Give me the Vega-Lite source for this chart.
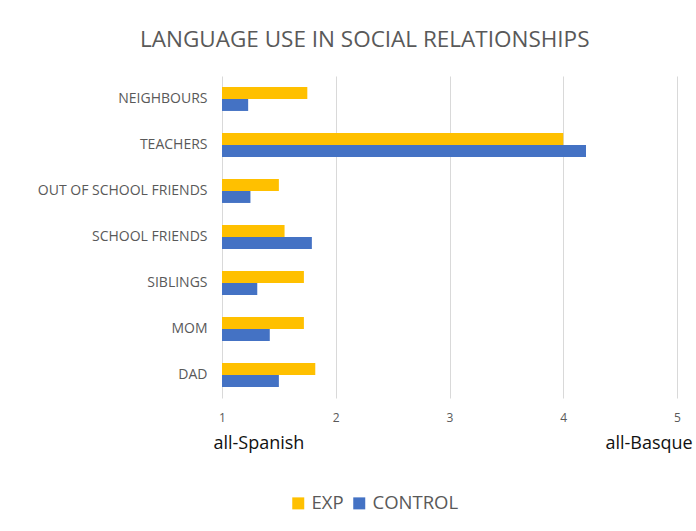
{
  "$schema": "https://vega.github.io/schema/vega-lite/v6.json",
  "width": 455,
  "height": 322,
  "autosize": {"type": "none"},
  "padding": {"left": 222, "top": 76, "right": 19, "bottom": 133},
  "background": "white",
  "title": {
    "text": "LANGUAGE USE IN SOCIAL RELATIONSHIPS",
    "anchor": "middle",
    "frame": "bounds",
    "font": "Open Sans",
    "fontSize": 22.5,
    "fontWeight": "normal",
    "color": "#595959",
    "offset": 25
  },
  "datasets": {
    "bars": [
      {"category": "NEIGHBOURS", "group": "EXP", "value": 1.75},
      {"category": "NEIGHBOURS", "group": "CONTROL", "value": 1.23},
      {"category": "TEACHERS", "group": "EXP", "value": 4.0},
      {"category": "TEACHERS", "group": "CONTROL", "value": 4.2},
      {"category": "OUT OF SCHOOL FRIENDS", "group": "EXP", "value": 1.5},
      {"category": "OUT OF SCHOOL FRIENDS", "group": "CONTROL", "value": 1.25},
      {"category": "SCHOOL FRIENDS", "group": "EXP", "value": 1.55},
      {"category": "SCHOOL FRIENDS", "group": "CONTROL", "value": 1.79},
      {"category": "SIBLINGS", "group": "EXP", "value": 1.72},
      {"category": "SIBLINGS", "group": "CONTROL", "value": 1.31},
      {"category": "MOM", "group": "EXP", "value": 1.72},
      {"category": "MOM", "group": "CONTROL", "value": 1.42},
      {"category": "DAD", "group": "EXP", "value": 1.82},
      {"category": "DAD", "group": "CONTROL", "value": 1.5}
    ],
    "ends": [
      {"pos": 1.32, "label": "all-Spanish"},
      {"pos": 4.75, "label": "all-Basque"}
    ]
  },
  "layer": [
    {
      "data": {"name": "bars"},
      "mark": {"type": "bar"},
      "encoding": {
        "y": {
          "field": "category",
          "type": "nominal",
          "sort": ["NEIGHBOURS", "TEACHERS", "OUT OF SCHOOL FRIENDS", "SCHOOL FRIENDS", "SIBLINGS", "MOM", "DAD"],
          "scale": {"paddingInner": 0.48, "paddingOuter": 0.24},
          "axis": {
            "title": null,
            "domain": false,
            "ticks": false,
            "labelPadding": 15,
            "labelFont": "Open Sans",
            "labelFontSize": 14,
            "labelColor": "#595959",
            "labelLimit": 250
          }
        },
        "yOffset": {"field": "group", "type": "nominal", "sort": ["EXP", "CONTROL"]},
        "x": {
          "field": "value",
          "type": "quantitative",
          "stack": null,
          "scale": {"domain": [1, 5], "nice": false, "zero": false},
          "axis": {
            "title": null,
            "values": [1, 2, 3, 4, 5],
            "domain": false,
            "ticks": false,
            "grid": true,
            "gridColor": "#d9d9d9",
            "gridWidth": 1,
            "labelPadding": 14,
            "labelFont": "Open Sans",
            "labelFontSize": 12,
            "labelColor": "#595959",
            "labelFlush": false
          }
        },
        "color": {
          "field": "group",
          "type": "nominal",
          "sort": ["EXP", "CONTROL"],
          "scale": {"domain": ["EXP", "CONTROL"], "range": ["#FFC000", "#4472C4"]},
          "legend": {
            "title": null,
            "orient": "none",
            "direction": "horizontal",
            "legendX": 67,
            "legendY": 418,
            "symbolType": "square",
            "symbolSize": 144,
            "symbolStrokeWidth": 0,
            "labelFont": "Open Sans",
            "labelFontSize": 18.5,
            "labelColor": "#595959",
            "columnPadding": 6,
            "labelOffset": 4
          }
        }
      }
    },
    {
      "data": {"name": "ends"},
      "mark": {"type": "tick", "opacity": 0},
      "encoding": {
        "x": {
          "field": "pos",
          "type": "quantitative",
          "axis": {
            "title": null,
            "orient": "bottom",
            "values": [1.32, 4.75],
            "labelExpr": "datum.value < 3 ? 'all-Spanish' : 'all-Basque'",
            "domain": false,
            "ticks": false,
            "grid": false,
            "offset": 34,
            "labelPadding": 2,
            "labelFont": "Open Sans",
            "labelFontSize": 18,
            "labelColor": "#111111",
            "labelFlush": false
          }
        }
      }
    }
  ],
  "resolve": {"axis": {"x": "independent"}},
  "config": {"view": {"stroke": null}}
}
